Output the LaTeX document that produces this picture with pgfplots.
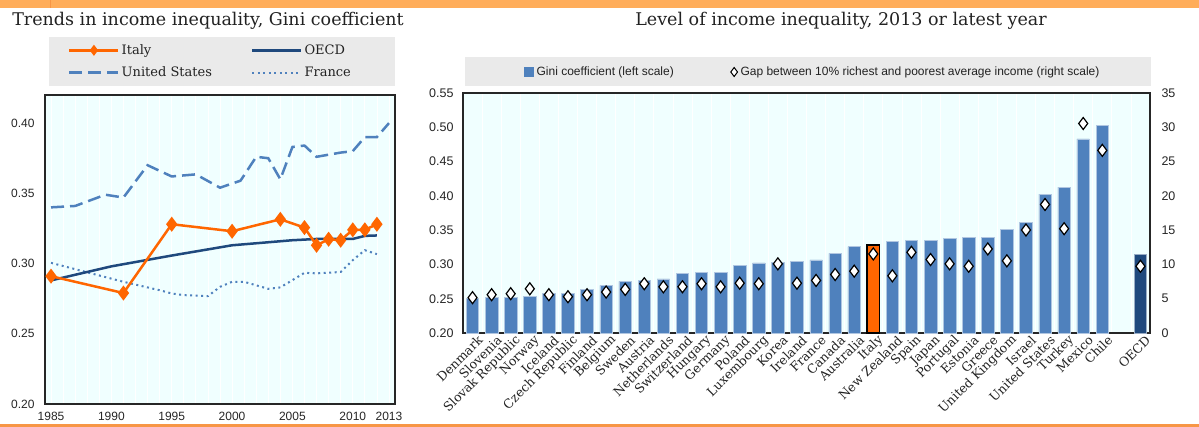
\documentclass[border=0pt]{standalone}
\usepackage{pgfplots}
\pgfplotsset{compat=1.18}
\usepackage{fontspec}
\setmainfont{DejaVu Serif}
\newfontfamily\sansf{Liberation Sans}
\definecolor{barblue}{RGB}{79,129,189}
\definecolor{navy}{RGB}{31,73,125}
\definecolor{itorange}{RGB}{255,102,0}
\definecolor{bgcyan}{RGB}{240,255,255}
\definecolor{leggray}{RGB}{234,234,234}
\definecolor{bandorange}{RGB}{255,173,90}
\definecolor{lineorange}{RGB}{247,150,70}
\definecolor{txt}{RGB}{34,34,34}
\pgfplotsset{
  lineleg/.style={legend image code/.code={\draw[mark repeat=2, mark phase=2, ##1] plot coordinates {(0pt,0pt) (24.5pt,0pt) (49pt,0pt)};}},
  diamleg/.style={legend image code/.code={\draw[##1, mark size=4.5pt, mark options={fill=white, draw=black, line width=1pt}] plot coordinates {(4pt,0pt)};}},
  sqleg/.style={legend image code/.code={\fill[barblue] (0pt,-4.5pt) rectangle (9pt,4.5pt);}},
}

\begin{document}
\begin{tikzpicture}
\path[use as bounding box] (0pt,0pt) rectangle (1199pt,-427pt);
\fill[white] (0pt,0pt) rectangle (1199pt,-427pt);
\fill[bandorange] (0pt,0pt) rectangle (1199pt,-8pt);
\draw[lineorange,line width=0.8pt] (50pt,0pt) -- (50pt,-8pt);
\fill[lineorange] (0pt,-424pt) rectangle (1199pt,-427pt);

\node[txt,font=\fontsize{17.5}{20}\selectfont] at (208pt,-21pt) {Trends in income inequality, Gini coefficient};
\node[txt,font=\fontsize{17.5}{20}\selectfont] at (841pt,-21pt) {Level of income inequality, 2013 or latest year};

\fill[leggray] (49pt,-37pt) rectangle (395pt,-86pt);
\fill[leggray] (465pt,-57pt) rectangle (1151pt,-86pt);

% ---------------- Left chart ----------------
\begin{axis}[
  at={(45pt,-404pt)}, anchor=south west,
  scale only axis, width=350pt, height=309pt,
  xmin=1984.5, xmax=2013.5, ymin=0.2, ymax=0.42,
  axis background/.style={fill=bgcyan},
  axis line style={line width=1.3pt, black!85},
  xtick={1985,1990,1995,2000,2005,2010,2013},
  ytick={0.20,0.25,0.30,0.35,0.40},
  minor xtick={1985,1986,...,2013},
  xminorgrids, minor grid style={white, line width=0.8pt},
  major tick length=0pt, minor tick length=0pt,
  tick label style={font=\sansf\fontsize{12}{12}\selectfont, black!85},
  /pgf/number format/assume math mode=true,
  xticklabel style={/pgf/number format/1000 sep={}, yshift=-5pt},
  yticklabel style={/pgf/number format/.cd, fixed, fixed zerofill, precision=2, /tikz/.cd, xshift=-7pt},
  legend columns=2,
  lineleg,
  legend cell align=left,
  legend style={draw=none, fill=none, inner sep=0pt, anchor=west,
    at={(axis description cs:0.0657,1.1085)},
    font=\fontsize{13}{15}\selectfont, text=txt,
    nodes={inner sep=2pt},
    row sep=7pt,
    /tikz/every odd column/.append style={column sep=0pt},
    /tikz/every even column/.append style={column sep=37pt}},
]
\addlegendimage{itorange, line width=2.5pt, mark=diamond*, mark size=3.5pt, mark options={solid, fill=itorange}}
\addlegendentry{Italy}
\addlegendimage{navy, line width=2.5pt}
\addlegendentry{OECD}
\addlegendimage{barblue, line width=2.5pt, dash pattern=on 13pt off 6pt}
\addlegendentry{United States}
\addlegendimage{barblue, line width=2pt, dash pattern=on 2pt off 3.5pt}
\addlegendentry{France}

\addplot[forget plot, barblue, line width=2pt, dash pattern=on 2pt off 3.5pt] coordinates {
(1985,0.3005) (1991,0.287) (1994,0.281) (1995,0.2787) (1996,0.2775) (1998,0.2768)
(1999,0.2834) (2000,0.287) (2001,0.287) (2003,0.282) (2004,0.283) (2006,0.2934)
(2007,0.293) (2009,0.294) (2010,0.3024) (2011,0.3095) (2012,0.3067)};
\addplot[forget plot, barblue, line width=2.5pt, dash pattern=on 13pt off 6pt] coordinates {
(1985,0.340) (1987,0.341) (1989.5,0.349) (1991,0.347) (1993,0.370) (1995,0.362)
(1997,0.3635) (1999,0.354) (2000.7,0.359) (2002,0.376) (2003,0.375) (2004,0.360)
(2005,0.383) (2006,0.384) (2007,0.376) (2009,0.379) (2010,0.380) (2011,0.390)
(2012,0.390) (2013,0.400)};
\addplot[forget plot, navy, line width=2.5pt] coordinates {
(1985,0.288) (1990,0.298) (1995,0.3057) (2000,0.313) (2005,0.3166) (2007,0.3175)
(2010,0.3175) (2011,0.3197) (2012,0.320)};
\addplot[forget plot, itorange, line width=2.5pt, mark=diamond*, mark size=5.5pt, mark options={fill=itorange}] coordinates {
(1985,0.291) (1991,0.279) (1995,0.328) (2000,0.323) (2004,0.3315) (2006,0.3256)
(2007,0.313) (2008,0.3173) (2009,0.3166) (2010,0.324) (2011,0.324) (2012,0.328)};
\end{axis}

% ---------------- Right chart, left scale ----------------
\begin{axis}[
  at={(463pt,-333pt)}, anchor=south west,
  scale only axis, width=687pt, height=240pt,
  xmin=-0.5, xmax=35.5, ymin=0.2, ymax=0.55,
  axis background/.style={fill=bgcyan},
  axis line style={line width=1.3pt, black!85},
  ytick={0.20,0.25,0.30,0.35,0.40,0.45,0.50,0.55},
  xtick={0,1,...,33,35},
  xticklabels={Denmark,Slovenia,Slovak Republic,Norway,Iceland,Czech Republic,Finland,Belgium,Sweden,Austria,Netherlands,Switzerland,Hungary,Germany,Poland,Luxembourg,Korea,Ireland,France,Canada,Australia,Italy,New Zealand,Spain,Japan,Portugal,Estonia,Greece,United Kingdom,Israel,United States,Turkey,Mexico,Chile,OECD},
  minor xtick={-0.5,0.5,...,35.5},
  xminorgrids, minor grid style={white, line width=0.8pt},
  major tick length=0pt, minor tick length=0pt,
  tick label style={black!85},
  yticklabel style={font=\sansf\fontsize{12.5}{12}\selectfont, /pgf/number format/.cd, fixed, fixed zerofill, precision=2, assume math mode=true, /tikz/.cd, xshift=-6pt},
  xticklabel style={font=\fontsize{12.5}{13}\selectfont, txt, rotate=45, anchor=east, inner sep=0pt, yshift=-9pt, xshift=2pt},
]
\addplot[ybar, bar width=12.5pt, bar shift=0pt, fill=barblue, draw=barblue!45!white, line width=0.6pt] coordinates {
(0,0.250) (1,0.2515) (2,0.2515) (3,0.2534) (4,0.2573) (5,0.2573) (6,0.2635) (7,0.2694)
(8,0.2752) (9,0.2766) (10,0.279) (11,0.2868) (12,0.2887) (13,0.2882) (14,0.2984)
(15,0.3023) (16,0.3032) (17,0.3042) (18,0.3066) (19,0.3163) (20,0.326)
(22,0.3337) (23,0.3356) (24,0.3356) (25,0.3376) (26,0.3395) (27,0.3395) (28,0.3516)
(29,0.3613) (30,0.4024) (31,0.4126) (32,0.4832) (33,0.5026)};
\addplot[ybar, bar width=12.5pt, bar shift=0pt, fill=itorange, draw=black, line width=1.5pt] coordinates {(21,0.3284)};
\addplot[ybar, bar width=12.5pt, bar shift=0pt, fill=navy, draw=navy!45!white, line width=0.6pt] coordinates {(35,0.3153)};
\end{axis}

% ---------------- Right chart, right scale ----------------
\begin{axis}[
  at={(463pt,-333pt)}, anchor=south west,
  scale only axis, width=687pt, height=240pt,
  xmin=-0.5, xmax=35.5, ymin=0, ymax=35,
  axis x line=none, axis y line*=right,
  axis line style={line width=1.3pt, black!85},
  ytick={0,5,...,35},
  major tick length=0pt,
  yticklabel style={font=\sansf\fontsize{12.5}{12}\selectfont, black!85, /pgf/number format/assume math mode=true, xshift=8pt},
  legend columns=2,
  legend cell align=left,
  legend style={draw=none, fill=none, inner sep=0pt, anchor=west,
    at={(axis description cs:0.0888,1.0875)},
    font=\sansf\fontsize{12}{14}\selectfont, text=txt,
    nodes={inner sep=2pt},
    /tikz/every odd column/.append style={column sep=1pt},
    /tikz/every even column/.append style={column sep=55pt}},
]
\addlegendimage{sqleg}
\addlegendentry{Gini coefficient (left scale)}
\addplot[only marks, mark=diamond*, mark size=6pt, mark options={fill=white, draw=black, line width=1.2pt}, diamleg] coordinates {
(0,5.15) (1,5.58) (2,5.73) (3,6.45) (4,5.58) (5,5.29) (6,5.58) (7,5.97) (8,6.36)
(9,7.18) (10,6.74) (11,6.74) (12,7.18) (13,6.74) (14,7.27) (15,7.18) (16,10.08)
(17,7.27) (18,7.66) (19,8.53) (20,9.02) (21,11.53) (22,8.34) (23,11.77) (24,10.71)
(25,10.08) (26,9.74) (27,12.26) (28,10.52) (29,15.02) (30,18.74) (31,15.21)
(32,30.55) (33,26.63) (35,9.74)};
\addlegendentry{Gap between 10\% richest and poorest average income (right scale)}
\end{axis}
\end{tikzpicture}
\end{document}
